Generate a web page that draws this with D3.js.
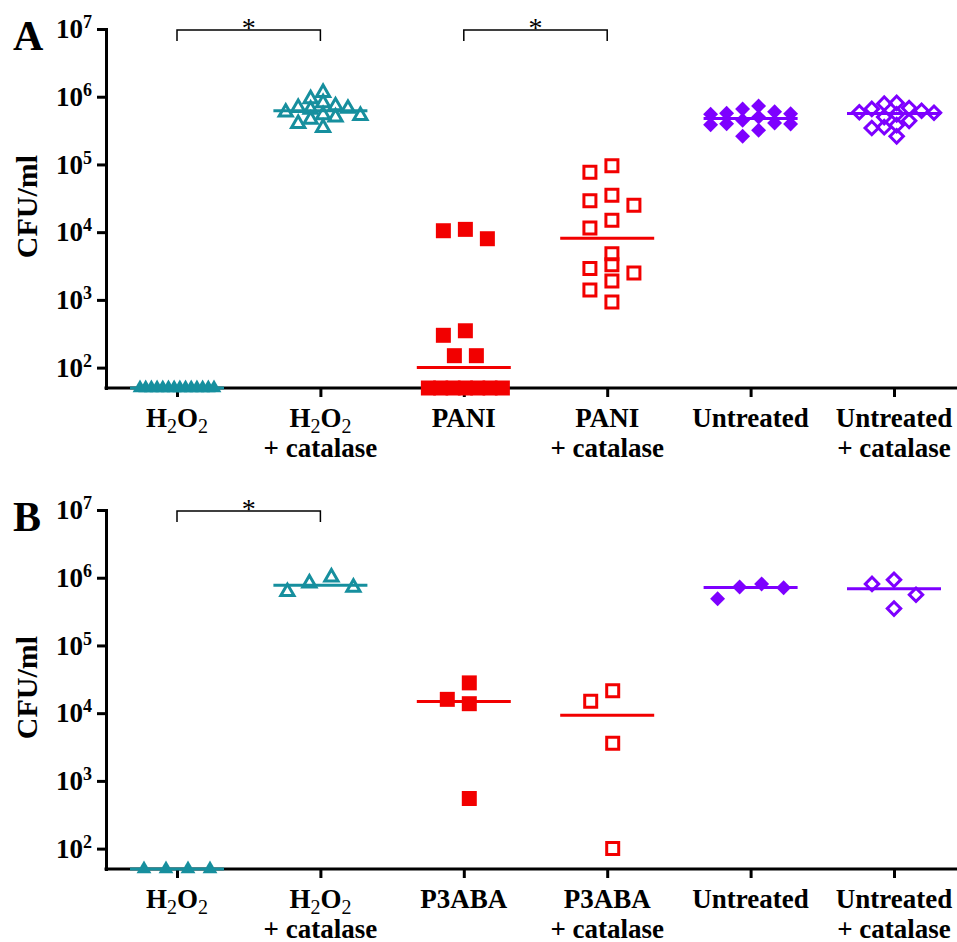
<!DOCTYPE html>
<html>
<head>
<meta charset="utf-8">
<script src="https://cdn.jsdelivr.net/npm/d3@7"></script>
<style>
  body { margin: 0; background: #fff; }
  svg { display: block; }
</style>
</head>
<body>
<svg id="chart" width="957" height="942" font-family="'Liberation Serif', 'Times New Roman', serif"></svg>
<script>
// categories ("_2" = subscript, "\n" = second line)
const catsA = ["H_2O_2", "H_2O_2\n+ catalase", "PANI", "PANI\n+ catalase", "Untreated", "Untreated\n+ catalase"];
const catsB = ["H_2O_2", "H_2O_2\n+ catalase", "P3ABA", "P3ABA\n+ catalase", "Untreated", "Untreated\n+ catalase"];
const yTicks = [1e2, 1e3, 1e4, 1e5, 1e6, 1e7];

// panel A, CFU/ml (values at the detection limit sit on the axis)
const h2o2A = [50, 50, 50, 50, 50, 50, 50, 50, 50, 50, 50, 50, 50, 50];
const h2o2CatA = [1150000, 930000, 810000, 730000, 690000, 670000, 650000, 590000, 540000, 525000, 500000, 460000, 400000, 350000];
const paniA = [11000, 10500, 8000, 350, 300, 150, 150, 50, 50, 50, 50, 50, 50, 50];
const paniCatA = [96000, 77000, 35000, 29000, 25000, 15000, 11500, 4800, 3300, 2900, 2500, 1900, 1400, 930];
const untreatedA = [730000, 660000, 600000, 570000, 560000, 550000, 500000, 450000, 410000, 400000, 395000, 385000, 320000, 260000];
const untreatedCatA = [810000, 790000, 680000, 660000, 620000, 590000, 580000, 550000, 500000, 440000, 380000, 355000, 345000, 260000];

// panel B, CFU/ml
const h2o2B = [50, 50, 50, 50];
const h2o2CatB = [830000, 620000, 720000, 1020000];
const p3abaB = [16000, 13800, 28000, 550];
const p3abaCatB = [15000, 21500, 3600, 100];
const untreatedB = [730000, 490000, 710000, 810000];
const untreatedCatB = [930000, 810000, 560000, 350000];

// significance brackets (category index pairs)
const sigA = [[0, 1], [2, 3]];
const sigB = [[0, 1]];

const teal = "#168f9e", red = "#f20000", purple = "#7d00ff";
const markers = [
  { shape: "triangle", filled: true, color: teal },
  { shape: "triangle", filled: false, color: teal },
  { shape: "square", filled: true, color: red },
  { shape: "square", filled: false, color: red },
  { shape: "diamond", filled: true, color: purple },
  { shape: "diamond", filled: false, color: purple }
];

const panels = [
  { letter: "A", cats: catsA, groups: [h2o2A, h2o2CatA, paniA, paniCatA, untreatedA, untreatedCatA], sig: sigA,
    top: 29, bottom: 388, spread: { step: 11, dxMin: 13, dyMin: 10, tieGap: 22, tieHalf: 37, maxHalf: 40 } },
  { letter: "B", cats: catsB, groups: [h2o2B, h2o2CatB, p3abaB, p3abaCatB, untreatedB, untreatedCatB], sig: sigB,
    top: 510, bottom: 869, spread: { step: 22, dxMin: 16, dyMin: 18, tieGap: 22, tieHalf: 37, maxHalf: 40 } }
];

const svg = d3.select("#chart");
const axisX0 = 106, axisX1 = 957;

function symbolPath(m) {
  if (m.shape === "triangle") return d3.symbol(d3.symbolTriangle, m.filled ? 95 : 75)();
  if (m.shape === "square") return d3.symbol(d3.symbolSquare, m.filled ? 225 : 144)();
  return d3.symbol(d3.symbolSquare, m.filled ? 112 : 90)();
}

// column-scatter spread: tied values in an even row, others pushed sideways on collision
function swarm(vals, y, o) {
  const lo = y.domain()[0];
  const pts = vals.map(v => ({ v, py: y(Math.max(v, lo)) }));
  const placed = [];
  d3.groups(pts, p => p.py).sort((a, b) => a[0] - b[0]).forEach(([py, row]) => {
    if (row.length > 1) {
      const gap = Math.min(o.tieGap, 2 * o.tieHalf / (row.length - 1));
      row.forEach((p, i) => { p.dx = (i - (row.length - 1) / 2) * gap; placed.push(p); });
      return;
    }
    const p = row[0];
    for (let k = 0; ; k++) {
      const off = (k % 2 ? -1 : 1) * Math.ceil(k / 2) * o.step;
      const hit = placed.some(q => Math.abs(q.dx - off) < o.dxMin && Math.abs(q.py - py) < o.dyMin);
      if (!hit) { p.dx = off; placed.push(p); break; }
    }
  });
  const shift = d3.mean(pts, p => p.dx);
  pts.forEach(p => { p.dx -= shift; });
  const half = d3.max(pts, p => Math.abs(p.dx));
  if (half > o.maxHalf) pts.forEach(p => { p.dx *= o.maxHalf / half; });
  return pts;
}

function addLabel(g, x, y, str) {
  const t = g.append("text")
    .attr("x", x).attr("y", y)
    .attr("text-anchor", "middle")
    .attr("font-size", 27)
    .attr("font-weight", "bold");
  let shifted = false;
  str.split(/(_\d)/).filter(s => s).forEach(s => {
    if (s.startsWith("_")) {
      t.append("tspan").attr("dy", 6).attr("font-size", 20).attr("font-weight", "normal").text(s.slice(1));
      shifted = true;
    } else {
      t.append("tspan").attr("dy", shifted ? -6 : 0).text(s);
      shifted = false;
    }
  });
}

panels.forEach(p => {
  const g = svg.append("g");

  const y = d3.scaleLog().domain([50, 1e7]).range([p.bottom, p.top]);
  const x = d3.scalePoint().domain(d3.range(p.cats.length)).range([177, 894]);

  // y axis
  const yAxis = g.append("g")
    .attr("transform", `translate(${axisX0},0)`)
    .call(d3.axisLeft(y).tickValues(yTicks).tickSize(9).tickSizeOuter(0).tickPadding(5).tickFormat(() => "10"));
  yAxis.attr("font-family", null).attr("font-size", null);
  yAxis.select(".domain").attr("stroke-width", 3).attr("stroke-linecap", "square");
  yAxis.selectAll(".tick line").attr("stroke-width", 3);
  yAxis.selectAll(".tick text")
    .attr("font-size", 27)
    .attr("font-weight", "bold")
    .append("tspan")
    .attr("font-size", 18)
    .attr("dy", -10)
    .text(d => Math.round(Math.log10(d)));

  // x axis
  g.append("line")
    .attr("x1", axisX0).attr("x2", axisX1)
    .attr("y1", p.bottom).attr("y2", p.bottom)
    .attr("stroke", "#000").attr("stroke-width", 3).attr("stroke-linecap", "square");
  const xAxis = g.append("g")
    .attr("transform", `translate(0,${p.bottom})`)
    .call(d3.axisBottom(x).tickSize(9).tickSizeOuter(0).tickFormat(""));
  xAxis.select(".domain").remove();
  xAxis.selectAll(".tick line").attr("stroke-width", 3);

  p.cats.forEach((c, i) => {
    c.split("\n").forEach((line, j) => addLabel(g, x(i), p.bottom + 39 + j * 30, line));
  });

  // points and median lines
  p.groups.forEach((vals, i) => {
    const m = markers[i];
    const pts = swarm(vals, y, p.spread);
    const path = symbolPath(m);
    g.append("g").selectAll("path")
      .data(pts)
      .join("path")
      .attr("d", path)
      .attr("transform", d => `translate(${x(i) + d.dx},${d.py})` + (m.shape === "diamond" ? " rotate(45)" : ""))
      .attr("fill", m.filled ? m.color : "none")
      .attr("stroke", m.filled ? "none" : m.color)
      .attr("stroke-width", 3);

    const med = Math.max(d3.median(vals), y.domain()[0]);
    g.append("line")
      .attr("x1", x(i) - 47).attr("x2", x(i) + 47)
      .attr("y1", y(med)).attr("y2", y(med))
      .attr("stroke", m.color).attr("stroke-width", 3);
  });

  // significance brackets
  p.sig.forEach(([a, b]) => {
    const yb = p.top + 1;
    g.append("path")
      .attr("d", `M${x(a)},${yb + 11}V${yb}H${x(b)}V${yb + 11}`)
      .attr("fill", "none").attr("stroke", "#000").attr("stroke-width", 1.5);
    g.append("text")
      .attr("x", (x(a) + x(b)) / 2).attr("y", yb + 7)
      .attr("text-anchor", "middle")
      .attr("font-size", 28)
      .text("*");
  });

  // axis title and panel letter
  g.append("text")
    .attr("transform", `translate(37,${(p.top + p.bottom) / 2 - 2}) rotate(-90)`)
    .attr("text-anchor", "middle")
    .attr("font-size", 30)
    .attr("font-weight", "bold")
    .text("CFU/ml");
  g.append("text")
    .attr("x", 13).attr("y", p.top + 21)
    .attr("font-size", 42)
    .attr("font-weight", "bold")
    .text(p.letter);
});
</script>
</body>
</html>
